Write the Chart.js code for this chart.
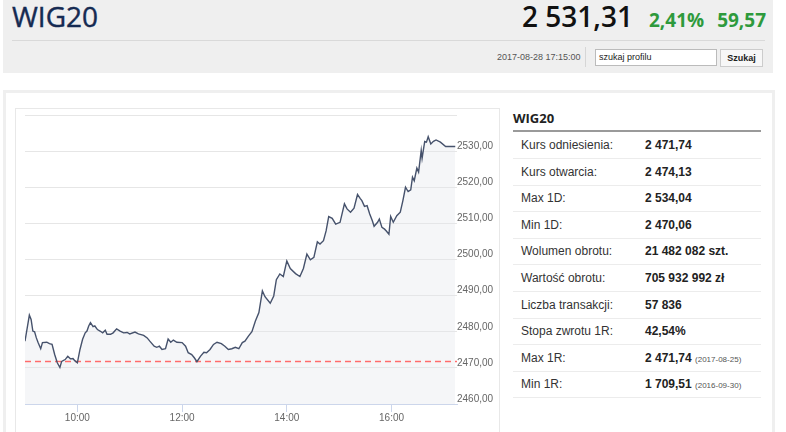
<!DOCTYPE html>
<html>
<head>
<meta charset="utf-8">
<script src="https://cdn.jsdelivr.net/npm/chart.js@4.4.0/dist/chart.umd.min.js"></script>
<style>
html, body { margin: 0; padding: 0; width: 786px; height: 432px; overflow: hidden; background: #fff; font-family: "Liberation Sans", Arial, sans-serif; }
#top { position: absolute; left: 3px; top: 0; width: 770px; height: 73px; background: #efefef; }
#title { position: absolute; left: 9px; top: -2px; font: 28px/36px "Open Sans", sans-serif; color: #152a52; -webkit-text-stroke: 0.4px #152a52; }
#quote { position: absolute; right: 7px; top: -2px; line-height: 36px; white-space: nowrap; font-family: "Open Sans", sans-serif; }
#quote .big { font-size: 28px; font-weight: 600; color: #111; margin-right: 16px; }
#quote .g { font-size: 19px; font-weight: 700; color: #2e9a3c; }
#sep { position: absolute; left: 9px; top: 40px; width: 753px; height: 1px; background: #d9d9d9; }
#date { position: absolute; left: 494px; top: 52px; font-size: 9px; color: #555; }
#vsep { position: absolute; left: 582px; top: 47px; width: 1px; height: 20px; background: #d6d6d6; }
#search { position: absolute; left: 592px; top: 49px; width: 122px; height: 17px; box-sizing: border-box; border: 1px solid #bbb; background: #fff; font-size: 9px; line-height: 15px; padding-left: 3px; color: #222; }
#btn { position: absolute; left: 717px; top: 49px; width: 43px; height: 18px; box-sizing: border-box; border: 1px solid #ccc; background: #f7f7f7; font-size: 9px; font-weight: bold; line-height: 16px; text-align: center; color: #222; }
#panel { position: absolute; left: 3px; top: 90px; width: 772px; height: 400px; box-sizing: border-box; border: 3px solid #efefef; }
#cbox { position: absolute; left: 15px; top: 108px; width: 485px; height: 400px; box-sizing: border-box; border: 1px solid #e8e8e8; }
#cwrap { position: absolute; left: 16px; top: 109px; width: 484px; height: 330px; }
#thead { position: absolute; left: 513px; top: 109px; font: bold 13px/18px "Open Sans", sans-serif; color: #222; }
#tline { position: absolute; left: 513px; top: 130px; width: 248px; height: 2px; background: #9a9a9a; }
.row { position: absolute; left: 513px; width: 248px; height: 26px; border-bottom: 1px solid #ececec; line-height: 26px; font-size: 12px; color: #333; }
.row .l { position: absolute; left: 8px; }
.row .v { position: absolute; left: 132px; font-weight: bold; color: #222; }
.row .v small { font-weight: normal; font-size: 8px; color: #555; }
</style>
</head>
<body>
<div id="top">
  <div id="title">WIG20</div>
  <div id="quote"><span class="big">2 531,31</span><span class="g">2,41%</span><span class="g" style="margin-left:13px">59,57</span></div>
  <div id="sep"></div>
  <div id="date">2017-08-28 17:15:00</div>
  <div id="vsep"></div>
  <div id="search">szukaj profilu</div>
  <div id="btn">Szukaj</div>
</div>
<div id="panel"></div>
<div id="cbox"></div>
<div id="cwrap"><canvas id="wig"></canvas></div>
<div id="thead">WIG20</div>
<div id="tline"></div>
<div id="rows"></div>
<script>
// intraday quotes
var times = ['09:00','09:05','09:07','09:09','09:11','09:13','09:15','09:18','09:20','09:25',
  '09:28','09:31','09:34','09:37','09:40','09:42','09:46','09:49','09:52','09:55',
  '09:57','10:00','10:03','10:06','10:09','10:11','10:13','10:15','10:18','10:20',
  '10:23','10:26','10:29','10:32','10:34','10:38','10:41','10:45','10:49','10:53',
  '10:57','11:00','11:06','11:10','11:16','11:20','11:23','11:28','11:31','11:34',
  '11:37','11:41','11:44','11:47','11:50','11:54','12:00','12:04','12:07','12:11',
  '12:14','12:17','12:21','12:25','12:28','12:32','12:36','12:40','12:45','12:49',
  '12:53','12:57','13:01','13:05','13:09','13:12','13:16','13:20','13:24','13:28',
  '13:32','13:35','13:41','13:45','13:48','13:52','13:56','14:00','14:04','14:10',
  '14:15','14:19','14:23','14:27','14:31','14:35','14:38','14:42','14:45','14:48',
  '14:52','14:56','15:01','15:06','15:09','15:13','15:17','15:21','15:24','15:26',
  '15:29','15:32','15:35','15:38','15:40','15:44','15:46','15:49','15:52','15:54',
  '15:57','15:59','16:02','16:06','16:10','16:13','16:16','16:19','16:22','16:24',
  '16:26','16:29','16:31','16:34','16:35','16:38','16:40','16:42','16:45','16:48',
  '16:51','16:56','17:02','17:13'];
var prices = [2477.4, 2484.6, 2483.4, 2480.2, 2480.0, 2478.3, 2477.0, 2475.3, 2477.0, 2477.1,
  2476.7, 2476.5, 2473.7, 2471.4, 2470.1, 2471.8, 2472.3, 2473.2, 2472.5, 2472.6,
  2472.0, 2471.4, 2475.1, 2477.9, 2479.7, 2480.2, 2481.6, 2482.5, 2481.4, 2481.6,
  2480.6, 2480.2, 2479.7, 2480.4, 2479.3, 2479.3, 2479.7, 2480.8, 2480.2, 2479.7,
  2479.8, 2479.4, 2479.9, 2479.4, 2479.0, 2478.3, 2477.4, 2476.0, 2475.7, 2476.0,
  2475.1, 2475.3, 2478.0, 2477.1, 2477.7, 2477.1, 2477.0, 2476.0, 2474.2, 2473.7,
  2472.8, 2471.7, 2473.2, 2474.3, 2474.2, 2475.1, 2476.5, 2477.1, 2476.7, 2476.0,
  2475.1, 2475.3, 2475.7, 2475.3, 2477.0, 2477.4, 2478.8, 2480.0, 2483.0, 2485.3,
  2491.3, 2489.7, 2487.9, 2489.9, 2494.4, 2496.0, 2495.3, 2499.6, 2497.5, 2496.1,
  2495.3, 2497.5, 2501.5, 2499.9, 2500.6, 2504.9, 2504.3, 2505.2, 2507.9, 2511.9,
  2511.4, 2509.8, 2510.3, 2515.4, 2514.0, 2513.1, 2514.2, 2518.0, 2516.9, 2516.3,
  2514.7, 2514.9, 2512.6, 2510.7, 2509.2, 2510.3, 2511.2, 2508.9, 2508.4, 2507.9,
  2507.0, 2511.9, 2510.3, 2512.1, 2513.1, 2516.3, 2520.0, 2518.8, 2519.3, 2522.8,
  2521.8, 2525.3, 2524.2, 2530.2, 2528.0, 2532.7, 2532.5, 2534.0, 2532.0, 2532.7,
  2533.1, 2532.5, 2531.3, 2531.3];
var refPrice = 2471.74;
var sessionStart = '09:00';
var sessionEnd = '17:15';
var xTicks = ['10:00', '12:00', '14:00', '16:00'];
var yTicks = [2460, 2470, 2480, 2490, 2500, 2510, 2520, 2530, 2540];

// side table
var statLabels = ['Kurs odniesienia:', 'Kurs otwarcia:', 'Max 1D:', 'Min 1D:', 'Wolumen obrotu:',
  'Wartość obrotu:', 'Liczba transakcji:', 'Stopa zwrotu 1R:', 'Max 1R:', 'Min 1R:'];
var statValues = ['2 471,74', '2 474,13', '2 534,04', '2 470,06', '21 482 082 szt.',
  '705 932 992 zł', '57 836', '42,54%', '2 471,74', '1 709,51'];
var statDates = ['', '', '', '', '', '', '', '', '2017-08-25', '2016-09-30'];

var rowsHtml = '';
for (var i = 0; i < statLabels.length; i++) {
  var extra = statDates[i] ? ' <small>(' + statDates[i] + ')</small>' : '';
  rowsHtml += '<div class="row" style="top:' + (132 + i * 26.6).toFixed(1) + 'px">' +
    '<span class="l">' + statLabels[i] + '</span><span class="v">' + statValues[i] + extra + '</span></div>';
}
document.getElementById('rows').innerHTML = rowsHtml;

function toMin(s) {
  var p = s.split(':');
  return (+p[0] - 9) * 60 + (+p[1]);
}
function fmtMin(m) {
  var h = 9 + Math.floor(m / 60), mm = m % 60;
  return (h < 10 ? '0' : '') + h + ':' + (mm < 10 ? '0' : '') + mm;
}

var points = times.map(function(t, i) { return { x: toMin(t), y: prices[i] }; });
var xMin = toMin(sessionStart), xMax = toMin(sessionEnd);

var ctx = document.getElementById('wig');
var wigChart = new Chart(ctx, {
  type: 'line',
  data: {
    datasets: [{
      data: points,
      borderColor: '#46526c',
      borderWidth: 1.4,
      backgroundColor: 'rgba(225,228,236,0.35)',
      fill: 'start',
      pointRadius: 0,
      tension: 0
    }, {
      data: [{ x: xMin, y: refPrice }, { x: xMax, y: refPrice }],
      borderColor: '#ff6b6b',
      borderWidth: 1.5,
      borderDash: [6, 4],
      fill: false,
      pointRadius: 0
    }]
  },
  options: {
    responsive: true,
    maintainAspectRatio: false,
    animation: false,
    layout: { padding: { left: 9, top: 6, right: 0, bottom: 0 } },
    plugins: {
      legend: { display: false },
      tooltip: { enabled: false },
      filler: { drawTime: 'beforeDatasetsDraw' }
    },
    scales: {
      x: {
        type: 'linear',
        min: xMin,
        max: xMax,
        afterBuildTicks: function(s) { s.ticks = xTicks.map(function(t) { return { value: toMin(t) }; }); },
        afterFit: function(s) { s.height = 35; },
        grid: { drawOnChartArea: false, color: '#ccd6eb', tickLength: 8 },
        border: { color: '#ccd6eb' },
        ticks: {
          color: '#666',
          font: { size: 10, family: 'Liberation Sans' },
          padding: 0,
          maxRotation: 0,
          autoSkip: false,
          callback: function(v) { return fmtMin(v); }
        }
      },
      y: {
        position: 'right',
        min: yTicks[0],
        max: yTicks[yTicks.length - 1],
        afterBuildTicks: function(s) { s.ticks = yTicks.map(function(v) { return { value: v }; }); },
        afterFit: function(s) { s.width = 43; },
        grid: { color: '#e6e6e6', drawTicks: false },
        border: { display: false },
        ticks: {
          color: '#666',
          font: { size: 10, family: 'Liberation Sans' },
          padding: 0,
          labelOffset: -5,
          callback: function(v) {
            if (v === yTicks[yTicks.length - 1]) return '';
            return v.toFixed(2).replace('.', ',');
          }
        }
      }
    }
  }
});
</script>
</body>
</html>
